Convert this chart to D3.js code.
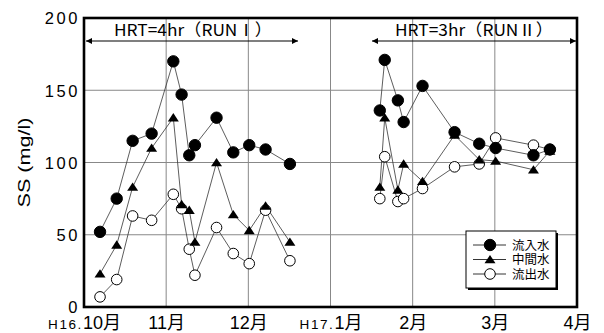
<!DOCTYPE html>
<html><head><meta charset="utf-8">
<script src="https://cdn.jsdelivr.net/npm/d3@7"></script>
<style>
body{margin:0;background:#fff;}
svg{display:block;font-family:"Noto Sans CJK JP","Noto Sans",sans-serif;}
</style></head>
<body><svg id="c" width="604" height="333"></svg>
<script>
// Month axis: position 0 = Oct 1 (H16), each month equally spaced
const monthLabels = ["H16.10月","11月","12月","H17.1月","2月","3月","4月"];
const yTicks = [0,50,100,150,200];

// RUN I sampling positions (month offset) and values
const run1Pos = [0.195,0.398,0.592,0.823,1.087,1.188,1.281,1.35,1.613,1.817,2.011,2.21,2.506];
const run1Inflow  = [52,75,115,120,170,147,105,112,131,107,112,109,99];
const run1Middle  = [23,43,83,110,131,71,67,45,100,64,53,70,45];
const run1Outflow = [7,19,63,60,78,68,40,22,55,37,30,67,32];

// RUN II
const run2Pos = [3.60,3.66,3.82,3.89,4.12,4.51,4.81,5.01,5.47,5.67];
const run2Inflow  = [136,171,143,128,153,121,113,110,105,109];
const run2Middle  = [83,131,81,99,87,119,102,101,95,108];
const run2Outflow = [75,104,73,75,82,97,99,117,112,109];

const seriesNames = ["流入水","中間水","流出水"];
const runLabels = ["HRT=4hr（RUNⅠ）","HRT=3hr（RUNⅡ）"];

const svg = d3.select("#c");
const L=84,R=577,T=18,B=307;
const x = d3.scaleLinear().domain([0,6]).range([L,R]);
const y = d3.scaleLinear().domain([0,200]).range([B,T]);

// gridlines
const g = svg.append("g");
g.selectAll(".vg").data(d3.range(1,6)).join("line")
  .attr("x1",d=>x(d)).attr("x2",d=>x(d)).attr("y1",T).attr("y2",B)
  .attr("stroke","#888").attr("stroke-width",1);
g.selectAll(".hg").data([50,100,150]).join("line")
  .attr("x1",L).attr("x2",R).attr("y1",d=>y(d)).attr("y2",d=>y(d))
  .attr("stroke","#888").attr("stroke-width",1);

// axes
const ya = svg.append("g").attr("transform",`translate(${L},0)`)
  .call(d3.axisLeft(y).tickValues(yTicks).tickSize(0).tickPadding(4));
ya.select(".domain").remove();
ya.selectAll("text").attr("font-size",16.5).attr("letter-spacing",2.6).attr("fill","#000")
  .attr("dy","0.36em")
  .attr("font-family","'Liberation Sans','Noto Sans CJK JP',sans-serif");

const xa = svg.append("g").attr("transform",`translate(0,${B})`)
  .call(d3.axisBottom(x).tickValues(d3.range(0,7)).tickSize(0).tickPadding(7).tickFormat(i=>monthLabels[i]));
xa.select(".domain").remove();
xa.selectAll("text").attr("fill","#000").attr("y",22).attr("dy",0)
  .attr("font-family","'Liberation Sans','Noto Sans CJK JP',sans-serif")
  .each(function(i){
  const t=d3.select(this); const s=monthLabels[i];
  t.text(null);
  const m=s.match(/^(H\d+\.)(.*)$/);
  if(m){
    t.append("tspan").attr("font-size",13.5).attr("letter-spacing",1.6).text(m[1]);
    t.append("tspan").attr("font-size",18).text(m[2]);
  } else t.append("tspan").attr("font-size",18).text(s);
});

// y label
svg.append("text").attr("transform",`translate(30,${(T+B)/2}) rotate(-90)`)
  .attr("text-anchor","middle").attr("font-size",17).attr("fill","#000")
  .attr("textLength",90).attr("lengthAdjust","spacingAndGlyphs")
  .attr("font-family","'Liberation Sans','Noto Sans',sans-serif").text("SS (mg/l)");

// series
const series = [
  {name:seriesNames[0], type:"fill", runs:[[run1Pos,run1Inflow],[run2Pos,run2Inflow]]},
  {name:seriesNames[1], type:"tri",  runs:[[run1Pos,run1Middle],[run2Pos,run2Middle]]},
  {name:seriesNames[2], type:"open", runs:[[run1Pos,run1Outflow],[run2Pos,run2Outflow]]}
];
const line = d3.line().x(d=>x(d[0])).y(d=>y(d[1]));
function marker(sel,type,cx,cy){
  if(type==="tri"){
    sel.append("path").attr("d","M0,-4.6L5.5,3.8L-5.5,3.8Z").attr("transform",`translate(${cx},${cy})`).attr("fill","#000");
  } else {
    sel.append("circle").attr("cx",cx).attr("cy",cy).attr("r",type==="fill"?5.7:5.3)
      .attr("fill",type==="fill"?"#000":"#fff").attr("stroke","#000").attr("stroke-width",1);
  }
}
const plot = svg.append("g");
series.slice().reverse().forEach(s=>{
  s.runs.forEach(([pos,vals])=>{
    const pts = pos.map((p,i)=>[p,vals[i]]);
    plot.append("path").attr("d",line(pts)).attr("fill","none").attr("stroke","#333").attr("stroke-width",0.8);
  });
});
series.slice().reverse().forEach(s=>{
  s.runs.forEach(([pos,vals])=>{
    pos.forEach((p,i)=>marker(plot,s.type,x(p),y(vals[i])));
  });
});

// frame
svg.append("rect").attr("x",L).attr("y",T).attr("width",R-L).attr("height",B-T)
  .attr("fill","none").attr("stroke","#000").attr("stroke-width",2.6);

// run annotations
const defs = svg.append("defs");
defs.append("marker").attr("id","ah").attr("viewBox","0 0 10 10").attr("refX",10).attr("refY",5)
  .attr("markerWidth",10).attr("markerHeight",6).attr("markerUnits","userSpaceOnUse").attr("orient","auto-start-reverse")
  .append("path").attr("d","M0,0L10,5L0,10Z").attr("fill","#000");
const arrows=[[86,298],[372,576]];
runLabels.forEach((lab,i)=>{
  const [a,b]=arrows[i];
  svg.append("line").attr("x1",a).attr("x2",b).attr("y1",41).attr("y2",41)
    .attr("stroke","#000").attr("stroke-width",1.2)
    .attr("marker-start","url(#ah)").attr("marker-end","url(#ah)");
  svg.append("text").attr("x",i===0?193:474).attr("y",35.5).attr("text-anchor","middle")
    .attr("font-size",16.5).attr("fill","#000")
    .attr("textLength",158).attr("lengthAdjust","spacingAndGlyphs").text(lab);
});

// legend
const lg = svg.append("g");
lg.append("rect").attr("x",468).attr("y",233).attr("width",90).attr("height",57).attr("fill","#000");
lg.append("rect").attr("x",466).attr("y",231).attr("width",90).attr("height",57).attr("fill","#fff").attr("stroke","#000").attr("stroke-width",1);
series.forEach((s,i)=>{
  const yy=245+i*14.5;
  lg.append("line").attr("x1",473).attr("x2",506).attr("y1",yy).attr("y2",yy).attr("stroke","#000").attr("stroke-width",0.8);
  marker(lg,s.type,490,yy);
  lg.append("text").attr("x",512).attr("y",yy).attr("dy","0.36em").attr("font-size",12.5)
    .attr("font-family","'Liberation Sans','Noto Sans CJK JP',sans-serif").attr("fill","#000").text(s.name);
});
</script></body></html>
